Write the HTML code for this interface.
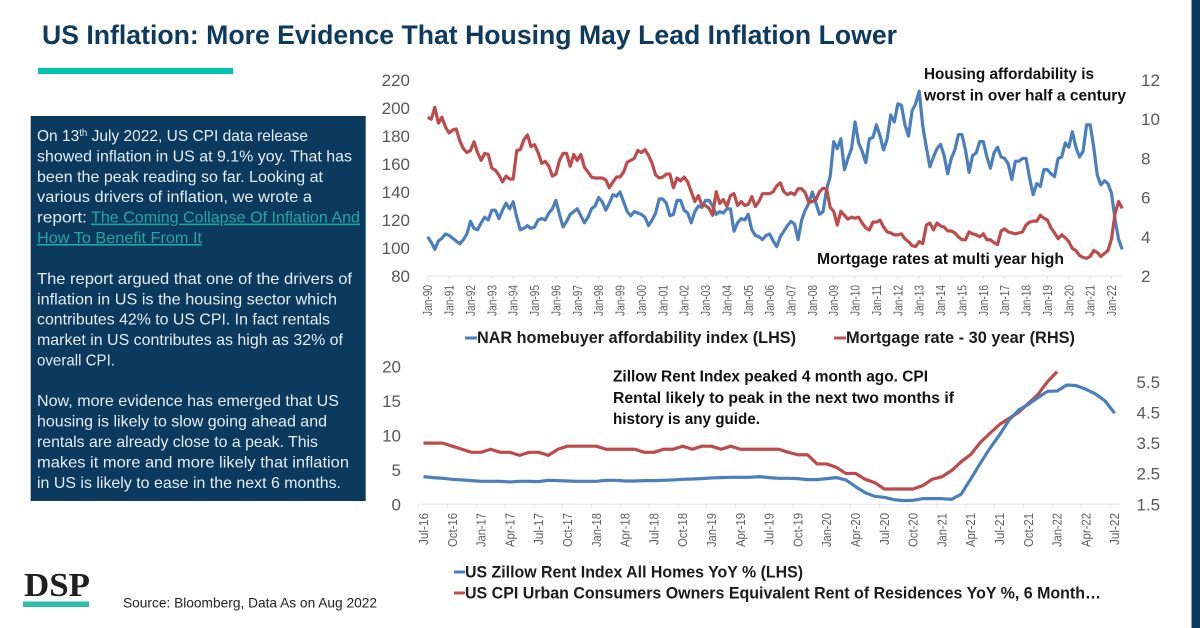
<!DOCTYPE html>
<html lang="en">
<head>
<meta charset="utf-8">
<title>US Inflation: More Evidence That Housing May Lead Inflation Lower</title>
<style>
html,body{margin:0;padding:0;background:#fff;}
svg{display:block;font-family:"Liberation Sans",sans-serif;}
.p{font-size:16px;fill:#e4edf3;}
.ann{font-size:15.5px;font-weight:bold;fill:#111;}
.leg{font-size:16.5px;font-weight:bold;fill:#1c1c1c;}
.yl{font-size:17px;fill:#595959;}
.xl{font-size:12.5px;fill:#606060;}
</style>
</head>
<body>
<svg id="slide" width="1200" height="628" viewBox="0 0 1200 628" xmlns="http://www.w3.org/2000/svg">
  <rect x="0" y="0" width="1200" height="628" fill="#fff"/>
  <rect x="1191.5" y="0" width="8.5" height="628" fill="#0d3b60"/>
  <text x="42" y="44" font-size="27px" font-weight="bold" fill="#0e3a5d" textLength="855" lengthAdjust="spacingAndGlyphs">US Inflation: More Evidence That Housing May Lead Inflation Lower</text>
  <rect x="38" y="68" width="195" height="6" fill="#00c5ad"/>

  <g>
    <rect x="30.7" y="116" width="335" height="385" fill="#0c3a5e"/>
    <text class="p" x="37" y="141" textLength="271" lengthAdjust="spacingAndGlyphs">On 13<tspan dy="-5" font-size="10px">th</tspan><tspan dy="5"> July 2022, US CPI data release</tspan></text>
    <text class="p" x="37" y="161.4" textLength="315" lengthAdjust="spacingAndGlyphs">showed inflation in US at 9.1% yoy. That has</text>
    <text class="p" x="37" y="181.8" textLength="286" lengthAdjust="spacingAndGlyphs">been the peak reading so far. Looking at</text>
    <text class="p" x="37" y="202.2" textLength="275" lengthAdjust="spacingAndGlyphs">various drivers of inflation, we wrote a</text>
    <text class="p" x="37" y="222.6" textLength="50" lengthAdjust="spacingAndGlyphs">report:</text>
    <a href="#">
      <text class="p" style="fill:#22a6a0;text-decoration:underline" x="91" y="222.6" textLength="269" lengthAdjust="spacingAndGlyphs">The Coming Collapse Of Inflation And</text>
      <text class="p" style="fill:#22a6a0;text-decoration:underline" x="37" y="243" textLength="165" lengthAdjust="spacingAndGlyphs">How To Benefit From It</text>
    </a>
    <text class="p" x="37" y="284" textLength="315" lengthAdjust="spacingAndGlyphs">The report argued that one of the drivers of</text>
    <text class="p" x="37" y="304.3" textLength="300" lengthAdjust="spacingAndGlyphs">inflation in US is the housing sector which</text>
    <text class="p" x="37" y="324.7" textLength="293" lengthAdjust="spacingAndGlyphs">contributes 42% to US CPI. In fact rentals</text>
    <text class="p" x="37" y="345" textLength="306" lengthAdjust="spacingAndGlyphs">market in US contributes as high as 32% of</text>
    <text class="p" x="37" y="365.4" textLength="78" lengthAdjust="spacingAndGlyphs">overall CPI.</text>
    <text class="p" x="37" y="406" textLength="302" lengthAdjust="spacingAndGlyphs">Now, more evidence has emerged that US</text>
    <text class="p" x="37" y="426.5" textLength="290" lengthAdjust="spacingAndGlyphs">housing is likely to slow going ahead and</text>
    <text class="p" x="37" y="447" textLength="281" lengthAdjust="spacingAndGlyphs">rentals are already close to a peak. This</text>
    <text class="p" x="37" y="467.5" textLength="312" lengthAdjust="spacingAndGlyphs">makes it more and more likely that inflation</text>
    <text class="p" x="37" y="488" textLength="304" lengthAdjust="spacingAndGlyphs">in US is likely to ease in the next 6 months.</text>
  </g>

  <g id="chart-top"></g>
  <g id="chart-bottom"></g>

  <text class="ann" x="924" y="79" textLength="170" lengthAdjust="spacingAndGlyphs">Housing affordability is</text>
  <text class="ann" x="924" y="100.5" textLength="202" lengthAdjust="spacingAndGlyphs">worst in over half a century</text>
  <text class="ann" x="817" y="264" textLength="247" lengthAdjust="spacingAndGlyphs">Mortgage rates at multi year high</text>
  <text class="ann" x="613" y="381.5" textLength="315" lengthAdjust="spacingAndGlyphs">Zillow Rent Index peaked 4 month ago. CPI</text>
  <text class="ann" x="613" y="403" textLength="341" lengthAdjust="spacingAndGlyphs">Rental likely to peak in the next two months if</text>
  <text class="ann" x="613" y="424" textLength="147" lengthAdjust="spacingAndGlyphs">history is any guide.</text>

  <g>
    <line x1="465" y1="338" x2="477" y2="338" stroke="#4a7fbc" stroke-width="3"/>
    <text class="leg" x="477" y="343" textLength="319" lengthAdjust="spacingAndGlyphs">NAR homebuyer affordability index (LHS)</text>
    <line x1="834" y1="338" x2="846" y2="338" stroke="#c0504d" stroke-width="3"/>
    <text class="leg" x="846" y="343" textLength="229" lengthAdjust="spacingAndGlyphs">Mortgage rate - 30 year (RHS)</text>
  </g>
  <g>
    <line x1="454" y1="572" x2="465" y2="572" stroke="#4a7fbc" stroke-width="3"/>
    <text class="leg" x="465" y="577.5" textLength="338" lengthAdjust="spacingAndGlyphs">US Zillow Rent Index All Homes YoY % (LHS)</text>
    <line x1="454" y1="593" x2="465" y2="593" stroke="#c0504d" stroke-width="3"/>
    <text class="leg" x="465" y="598.5" textLength="636" lengthAdjust="spacingAndGlyphs">US CPI Urban Consumers Owners Equivalent Rent of Residences YoY %, 6 Month…</text>
  </g>

  <text x="24" y="596" font-family="'Liberation Serif',serif" font-weight="bold" font-size="34px" fill="#1e1e1e" textLength="66" lengthAdjust="spacingAndGlyphs">DSP</text>
  <rect x="23" y="601.5" width="66" height="5.5" fill="#2fbfa9"/>
  <text x="123" y="607.5" font-size="14px" fill="#222" textLength="254" lengthAdjust="spacingAndGlyphs">Source: Bloomberg, Data As on Aug 2022</text>
</svg>
<script>
// ---- top chart data: one value every 2 months from Jan-90 ----
const topYearLabels = ['Jan-90','Jan-91','Jan-92','Jan-93','Jan-94','Jan-95','Jan-96','Jan-97','Jan-98','Jan-99','Jan-00','Jan-01','Jan-02','Jan-03','Jan-04','Jan-05','Jan-06','Jan-07','Jan-08','Jan-09','Jan-10','Jan-11','Jan-12','Jan-13','Jan-14','Jan-15','Jan-16','Jan-17','Jan-18','Jan-19','Jan-20','Jan-21','Jan-22'];
const topLeftTicks = [80,100,120,140,160,180,200,220];
const topRightTicks = [2,4,6,8,10,12];
const affordabilityIndex = [
108,104,99,105,107,110,
109,107,105,103,106,110,
119,114,113,118,122,120,
127,127,121,127,132,128,
133,122,113,114,116,114,
115,120,121,120,125,128,
134,124,115,119,124,126,
128,123,118,122,128,130,
136,133,127,132,138,137,
140,133,126,123,126,125,
124,122,116,120,125,135,
135,132,123,124,134,134,
127,125,118,126,130,129,
134,134,130,124,126,125,
128,128,112,118,121,120,
124,113,109,108,106,109,
110,105,101,108,112,116,
119,117,106,120,127,132,
140,132,124,126,142,151,
176,171,178,156,164,171,
190,175,169,161,178,179,
188,180,170,178,195,190,
203,202,188,180,198,203,
212,187,172,158,165,171,
174,166,153,164,170,181,
181,170,154,166,168,176,
176,165,157,168,172,165,
164,160,149,162,162,164,
164,150,138,146,144,156,
156,153,151,164,165,175,
172,183,172,165,169,188,
188,172,152,145,148,146,
139,120,106,99];
const mortgageRate = [
10.1,10.0,10.6,9.8,10.1,9.6,
9.3,9.45,9.5,8.9,8.5,8.3,
8.4,8.85,8.3,7.9,8.25,8.2,
7.5,7.4,7.15,6.8,7.1,6.95,
6.95,8.4,8.45,8.95,9.2,8.6,
8.7,8.3,7.75,7.85,7.6,7.1,
7.2,7.9,8.25,8.25,7.6,8.2,
7.9,8.2,7.55,7.3,7.05,7.0,
7.0,7.0,6.9,6.5,6.8,7.05,
7.05,7.3,7.8,7.9,8.0,8.4,
8.3,8.45,8.15,7.75,7.15,7.0,
7.05,7.2,7.2,6.5,7.0,6.85,
7.05,6.8,6.3,5.8,6.1,5.6,
5.6,5.45,5.1,6.3,5.7,5.9,
5.55,6.1,6.2,5.6,5.8,5.6,
5.65,6.05,5.55,5.8,6.2,6.2,
6.2,6.3,6.6,6.75,6.3,6.15,
6.25,6.15,6.45,6.45,6.25,5.75,
5.8,5.9,6.3,6.47,6.45,5.5,
5.3,4.6,5.3,5.1,4.9,5.0,
4.95,5.0,4.7,4.45,4.35,4.75,
4.75,4.85,4.5,4.25,4.2,4.1,
4.1,4.15,3.9,3.75,3.55,3.5,
3.75,3.65,4.6,4.7,4.35,4.7,
4.55,4.5,4.3,4.3,4.2,4.0,
3.85,3.85,4.25,4.15,4.1,4.0,
4.15,3.85,3.85,3.7,3.6,4.3,
4.4,4.25,4.2,4.15,4.2,4.25,
4.6,4.75,4.8,4.8,5.1,4.95,
4.85,4.45,4.2,3.9,4.1,3.95,
3.75,3.4,3.3,3.05,2.95,2.9,
3.0,3.3,3.2,3.0,3.15,3.3,
3.9,5.2,5.8,5.45];

// ---- bottom chart data: monthly from Jul-16 ----
const bottomQuarterLabels = ['Jul-16','Oct-16','Jan-17','Apr-17','Jul-17','Oct-17','Jan-18','Apr-18','Jul-18','Oct-18','Jan-19','Apr-19','Jul-19','Oct-19','Jan-20','Apr-20','Jul-20','Oct-20','Jan-21','Apr-21','Jul-21','Oct-21','Jan-22','Apr-22','Jul-22'];
const bottomLeftTicks = [0,5,10,15,20];
const bottomRightTicks = ['1.5','2.5','3.5','4.5','5.5'];
const zillowRentYoY = [
4.02,3.88,3.78,3.63,3.54,3.44,3.34,3.34,3.34,3.25,3.34,3.34,3.30,
3.49,3.44,3.39,3.34,3.34,3.34,3.49,3.49,3.39,3.39,3.44,3.44,3.49,
3.54,3.63,3.68,3.73,3.83,3.88,3.92,3.92,3.92,4.02,3.88,3.78,3.78,
3.73,3.59,3.59,3.73,3.88,3.54,2.57,1.70,1.16,1.02,0.68,0.53,0.58,
0.82,0.82,0.82,0.73,1.45,3.68,5.96,8.14,10.08,12.26,13.71,14.53,15.5,
16.42,16.47,17.34,17.25,16.72,16.04,15.02,13.23];
const cpiRentYoY = [
3.5,3.5,3.5,3.4,3.3,3.2,3.2,3.3,3.2,3.2,3.1,3.2,3.2,
3.1,3.3,3.4,3.4,3.4,3.4,3.3,3.3,3.3,3.3,3.2,3.2,3.3,
3.3,3.4,3.3,3.4,3.4,3.3,3.4,3.3,3.3,3.3,3.3,3.3,3.2,
3.12,3.12,2.82,2.82,2.71,2.51,2.51,2.32,2.21,2.0,2.0,2.0,2.0,
2.11,2.32,2.40,2.60,2.89,3.13,3.52,3.82,4.11,4.31,4.51,4.80,5.09,
5.51,5.84];

const NS = 'http://www.w3.org/2000/svg';
function make(parent, tag, attrs, txt) {
  const el = document.createElementNS(NS, tag);
  for (const k in attrs) el.setAttribute(k, attrs[k]);
  if (txt !== undefined) el.textContent = txt;
  parent.appendChild(el);
  return el;
}
function linePath(values, xf, yf) {
  return values.map((v, i) => (i ? 'L' : 'M') + xf(i).toFixed(2) + ' ' + yf(v).toFixed(2)).join('');
}

// ---- top chart ----
(function () {
  const g = document.getElementById('chart-top');
  const yBase = 276, yTop = 80, x0 = 427.7, perYear = 21.37;
  const xYear = y => x0 + y * perYear;
  const xPoint = i => xYear(i / 6);
  const yLeft = v => yBase - (v - 80) / 140 * (yBase - yTop);
  const yRight = v => yBase - (v - 2) / 10 * (yBase - yTop);

  const axis = make(g, 'line', {x1: x0, y1: yBase, x2: 1122, y2: yBase, stroke: '#e6e6e6', 'stroke-width': 1});
  
  

  topYearLabels.forEach((lab, i) => {
    const x = xYear(i);
    const tick = make(g, 'line', {x1: x, y1: yBase, x2: x, y2: yBase + 3, stroke: '#e0e0e0', 'stroke-width': 1});
    
    
    const t = make(g, 'text', {class: 'xl', 'text-anchor': 'end', transform: 'translate(' + (x + 4.5) + ',285) rotate(-90)', textLength: 31, lengthAdjust: 'spacingAndGlyphs'}, lab);
    
    
  });
  topLeftTicks.forEach(v => {
    const t = make(g, 'text', {class: 'yl', x: 410, y: yLeft(v) + 6, 'text-anchor': 'end'}, String(v));
    
    
  });
  topRightTicks.forEach(v => {
    const t = make(g, 'text', {class: 'yl', x: 1141, y: yRight(v) + 6}, String(v));
    
    
  });
  const blue = make(g, 'path', {d: linePath(affordabilityIndex, xPoint, yLeft), fill: 'none', stroke: '#4a7fbc', 'stroke-width': 3.2, 'stroke-linejoin': 'round'});
  
  
  const red = make(g, 'path', {d: linePath(mortgageRate, xPoint, yRight), fill: 'none', stroke: '#bd4b4b', 'stroke-width': 3.2, 'stroke-linejoin': 'round'});
  
  
})();

// ---- bottom chart ----
(function () {
  const g = document.getElementById('chart-bottom');
  const yBase = 504.3, yTop = 366.7, x0 = 418.7, perMonth = 9.6;
  const xEdge = i => x0 + i * perMonth;
  const xPoint = i => x0 + (i + 0.5) * perMonth;
  const yLeft = v => yBase - v / 20 * (yBase - yTop);
  const yRight = v => yBase - (v - 1.5) / 4.5 * (yBase - yTop);

  const axis = make(g, 'line', {x1: x0, y1: yBase, x2: 1119.5, y2: yBase, stroke: '#e6e6e6', 'stroke-width': 1});
  
  

  bottomQuarterLabels.forEach((lab, i) => {
    const m = i * 3;
    const tick = make(g, 'line', {x1: xEdge(m), y1: yBase, x2: xEdge(m), y2: yBase + 3, stroke: '#e0e0e0', 'stroke-width': 1});
    
    
    const t = make(g, 'text', {class: 'xl', 'text-anchor': 'end', transform: 'translate(' + (xPoint(m) + 4.5) + ',513) rotate(-90)', textLength: lab.startsWith('Jul') ? 32 : 34, lengthAdjust: 'spacingAndGlyphs'}, lab);
    
    
  });
  bottomLeftTicks.forEach(v => {
    const t = make(g, 'text', {class: 'yl', x: 401, y: yLeft(v) + 6, 'text-anchor': 'end'}, String(v));
    
    
  });
  bottomRightTicks.forEach(v => {
    const t = make(g, 'text', {class: 'yl', x: 1136.5, y: yRight(parseFloat(v)) + 6}, v);
    
    
  });
  const red = make(g, 'path', {d: linePath(cpiRentYoY, xPoint, yRight), fill: 'none', stroke: '#bd4b4b', 'stroke-width': 3.2, 'stroke-linejoin': 'round'});
  
  
  const blue = make(g, 'path', {d: linePath(zillowRentYoY, xPoint, yLeft), fill: 'none', stroke: '#4a7fbc', 'stroke-width': 3.2, 'stroke-linejoin': 'round'});
  
  
})();
</script>
</body>
</html>
